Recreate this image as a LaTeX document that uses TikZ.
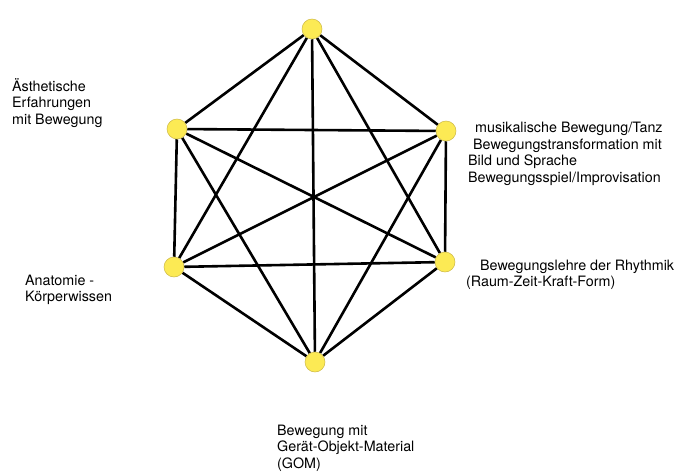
\documentclass[tikz,border=0pt]{standalone}
\usepackage{fontspec}
\setmainfont{TeX Gyre Heros}
\usetikzlibrary{backgrounds}
\definecolor{dotyellow}{RGB}{252,234,84}
\definecolor{dotrim}{RGB}{205,185,70}

\begin{document}
\begin{tikzpicture}[
  x=1pt, y=-1pt,
  font=\fontsize{14.3}{16.5}\selectfont,
  dot/.style={circle, fill=dotyellow, draw=dotrim, line width=0.5pt,
    minimum size=20pt, inner sep=0pt},
  lbl/.style={anchor=west, align=left, inner sep=0pt},
  link/.style={line width=2.6pt, black}]
\useasboundingbox (0,0) rectangle (689,474);
% corners of the hexagon
\node[dot] (top) at (312,29) {};
\node[dot] (ul) at (177,129) {};
\node[dot] (ur) at (446,131) {};
\node[dot] (ll) at (174,267) {};
\node[dot] (lr) at (445,262) {};
\node[dot] (bot) at (315,362) {};
% every corner joined to every other
\begin{pgfonlayer}{background}
\foreach \a/\b in {top/ul, top/ur, top/ll, top/lr, top/bot,
    ul/ur, ul/ll, ul/lr, ul/bot, ur/ll, ur/lr, ur/bot,
    ll/lr, ll/bot, lr/bot}
  \draw[link] (\a) -- (\b);
\end{pgfonlayer}
% texts
\node[lbl] (aesth) at (12,103) {Ästhetische\\Erfahrungen\\mit Bewegung};
\node[lbl] (musik) at (468,154) {\hspace{7pt}musikalische Bewegung/Tanz\\
  \hspace{5pt}Bewegungstransformation mit\\Bild und Sprache\\
  Bewegungsspiel/Improvisation};
\node[lbl] (anat) at (25,290) {Anatomie -\\Körperwissen};
\node[lbl] (rhyth) at (466,275) {\hspace{14pt}Bewegungslehre der Rhythmik\\
  (Raum-Zeit-Kraft-Form)};
\node[lbl] (gom) at (277,448) {Bewegung mit\\Gerät-Objekt-Material\\(GOM)};
\end{tikzpicture}
\end{document}
